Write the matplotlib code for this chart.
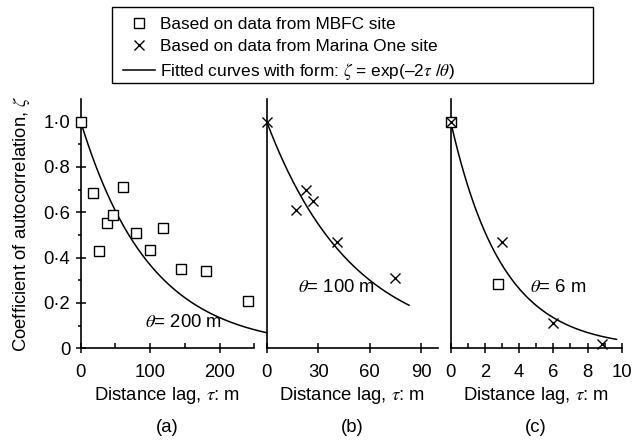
import numpy as np
import matplotlib
matplotlib.use('Agg')
import matplotlib.pyplot as plt
from matplotlib.lines import Line2D
from matplotlib.patches import Rectangle

plt.rcParams['font.family'] = ['Liberation Sans', 'DejaVu Sans']
plt.rcParams['mathtext.fontset'] = 'stix'
plt.rcParams['font.size'] = 13.3

# (a) MBFC site data, theta = 200 m
a_lag = [0, 18, 27, 38, 46, 61, 80, 100, 118, 144, 181, 241]
a_zeta = [1.0, 0.685, 0.43, 0.555, 0.59, 0.71, 0.51, 0.435, 0.53, 0.352, 0.342, 0.207]
a_theta = 200

# (b) Marina One site data, theta = 100 m
b_lag = [0, 17, 23, 27, 41, 75]
b_zeta = [1.0, 0.61, 0.70, 0.65, 0.47, 0.31]
b_theta = 100

# (c) both sites, theta = 6 m
c_mbfc_lag = [0, 2.75]
c_mbfc_zeta = [1.0, 0.285]
c_mo_lag = [0, 3, 6, 8.85]
c_mo_zeta = [1.0, 0.47, 0.11, 0.02]
c_theta = 6

yticks = [0, 0.2, 0.4, 0.6, 0.8, 1.0]
ytick_labels = ['0', '0·2', '0·4', '0·6', '0·8', '1·0']

W, H = 633, 441
fig = plt.figure(figsize=(W / 100, H / 100), dpi=100)

y0 = 348.3  # x-axis pixel row (from top)
ax_h = 249.3


def px_axes(left, width):
    return fig.add_axes([left / W, (H - y0) / H, width / W, ax_h / H])


ax_a = px_axes(80.7, 173.6)
ax_b = px_axes(266.7, 171.4)
ax_c = px_axes(450.7, 171.0)

sq = dict(marker='s', ms=6.5, mfc='white', mec='black', mew=1.0, ls='none', zorder=3)
cr = dict(marker='x', ms=6.5, color='black', mew=1.0, ls='none', zorder=3)

# curves
xa = np.linspace(0, 268, 200)
ax_a.plot(xa, np.exp(-2 * xa / a_theta), color='black', lw=1.1, clip_on=False)
ax_a.plot(a_lag, a_zeta, clip_on=False, **sq)

xb = np.linspace(0, 83, 200)
ax_b.plot(xb, np.exp(-2 * xb / b_theta), color='black', lw=1.1)
ax_b.plot(b_lag, b_zeta, clip_on=False, **cr)

xc = np.linspace(0, 9.7, 200)
ax_c.plot(xc, np.exp(-2 * xc / c_theta), color='black', lw=1.1)
ax_c.plot(c_mbfc_lag, c_mbfc_zeta, clip_on=False, **sq)
ax_c.plot(c_mo_lag, c_mo_zeta, clip_on=False, **cr)

ax_a.set_xlim(0, 250)
ax_b.set_xlim(0, 100)
ax_c.set_xlim(0, 10)
ax_a.set_xticks([0, 100, 200])
ax_a.set_xticks([50, 150, 250], minor=True)
ax_b.set_xticks([0, 30, 60, 90])
ax_c.set_xticks([0, 2, 4, 6, 8, 10])
ax_c.set_xticks([1, 3, 5, 7, 9], minor=True)

for ax in (ax_a, ax_b, ax_c):
    ax.set_ylim(0, 1.1)
    ax.spines['top'].set_visible(False)
    ax.spines['right'].set_visible(False)
    for s in ('left', 'bottom'):
        ax.spines[s].set_linewidth(1.2)
    ax.tick_params(axis='x', which='major', direction='inout', length=7, width=1.1, pad=8)
    ax.tick_params(axis='x', which='minor', direction='in', length=3.5, width=1.1)
    ax.set_xlabel('Distance lag, $\\tau$: m', labelpad=2.5)
    ax.patch.set_alpha(0)

ax_a.set_yticks(yticks)
ax_a.set_yticklabels(ytick_labels)
ax_a.set_yticks([0.1, 0.3, 0.5, 0.7, 0.9], minor=True)
ax_a.tick_params(axis='y', which='major', direction='inout', length=7, width=1.1, pad=4)
ax_a.tick_params(axis='y', which='minor', direction='out', length=2.5, width=1.1)
ax_a.set_ylabel('Coefficient of autocorrelation, $\\zeta$', labelpad=8)

for ax in (ax_b, ax_c):
    ax.set_yticks([])

ax_a.text(148, 0.115, '$\\theta$= 200 m', ha='center', va='center')
ax_b.text(40.5, 0.27, '$\\theta$= 100 m', ha='center', va='center')
ax_c.text(6.3, 0.27, '$\\theta$= 6 m', ha='center', va='center')

for ax, lab in ((ax_a, '(a)'), (ax_b, '(b)'), (ax_c, '(c)')):
    ax.text(0.5, -0.316, lab, transform=ax.transAxes, ha='center', va='center')

# legend box
fig.patches.append(Rectangle((112 / W, (H - 82.7) / H), (593 - 112) / W, 75.4 / H,
                             transform=fig.transFigure, fill=False, ec='black', lw=1.0))
handles = [
    Line2D([], [], **sq),
    Line2D([], [], **cr),
    Line2D([], [], color='black', lw=1.1),
]
labels = ['Based on data from MBFC site',
          'Based on data from Marina One site',
          'Fitted curves with form: $\\zeta$ = exp(–2$\\tau$ /$\\theta$)']
fig.legend(handles, labels, loc='upper left', bbox_to_anchor=(123 / W, 1 - 16.5 / H),
           frameon=False, handlelength=1.86, handletextpad=0.3, labelspacing=0.42,
           borderpad=0, borderaxespad=0, prop={'size': 12.4})

plt.savefig('out.png', dpi=100)
plt.close(fig)
